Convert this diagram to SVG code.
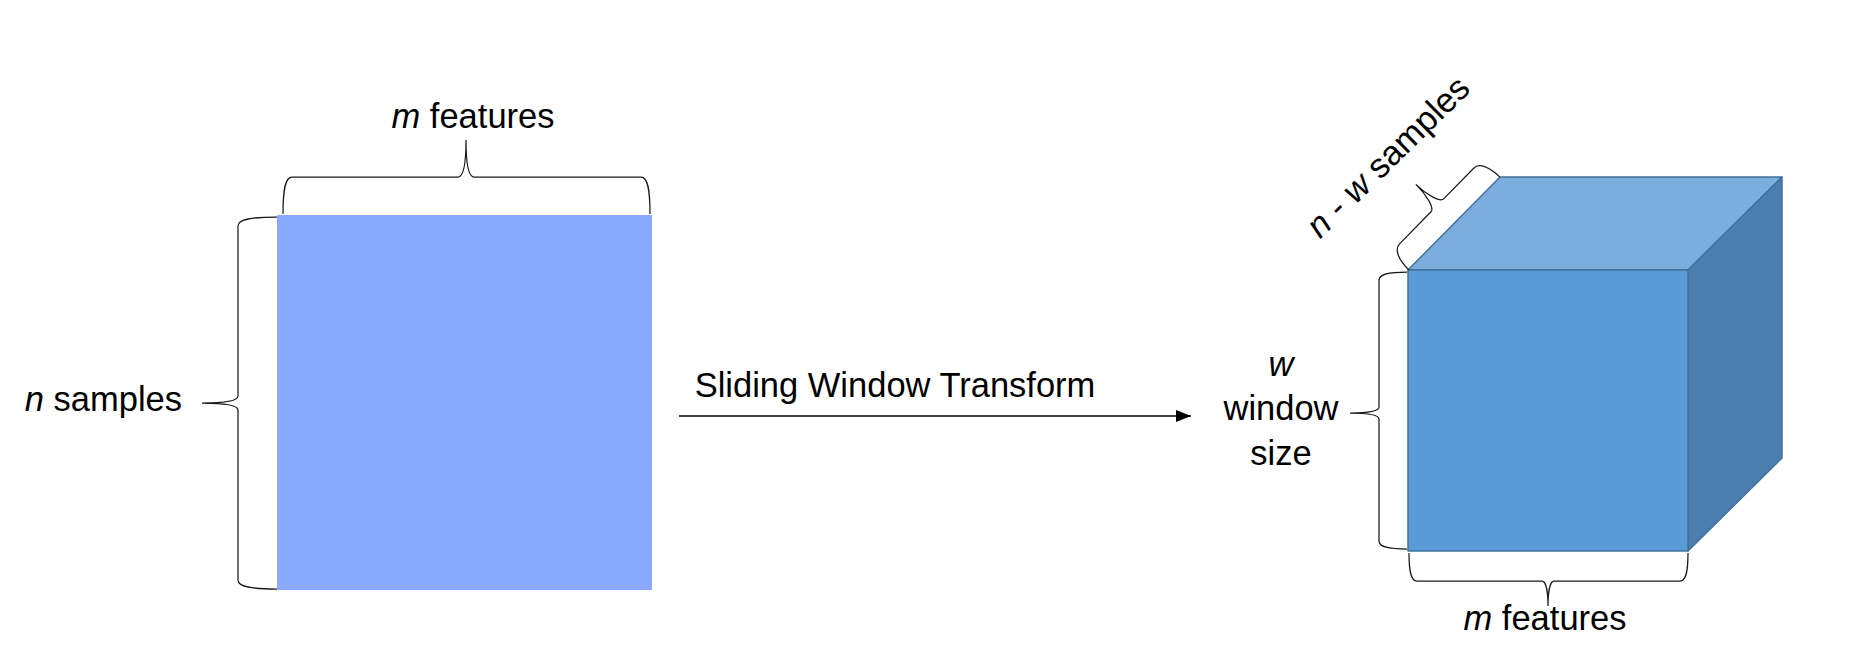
<svg xmlns="http://www.w3.org/2000/svg" width="1874" height="662" viewBox="0 0 1874 662">
<style>
.t{font-family:"Liberation Sans",Arial,sans-serif;font-size:34.5px;fill:#000}
.i{font-style:italic}
.brace{fill:none;stroke:#1a1a1a;stroke-width:1.25}
.face{stroke:#41719C;stroke-width:1.5;stroke-linejoin:round}
</style>
<defs>
<marker id="arr" markerUnits="userSpaceOnUse" markerWidth="16" markerHeight="14" refX="15" refY="6" orient="auto">
<path d="M0,0 L15,6 L0,12 Z" fill="#000"/>
</marker>
</defs>
<rect width="1874" height="662" fill="#fff"/>

<g id="matrix">
<rect x="277" y="215" width="375" height="375" fill="#8AA9FF"/>
</g>

<g id="cube">
<polygon class="face" points="1408,270 1500,177 1782,177 1688,270" fill="#7BAEDD"/>
<polygon class="face" points="1688,270 1782,177 1782,458 1688,551" fill="#4A7EAE"/>
<rect class="face" x="1408" y="270" width="280" height="281" fill="#5B9BD5"/>
</g>

<g id="braces">
<path class="brace" d="M 283 214 C 283 190 285 177 292 177 L 458 177 C 463 177 466 165 466 140 C 466 165 469 177 474 177 L 641 177 C 648 177 650 190 650 214"/>
<path class="brace" d="M 277 217 C 252 217 238 219 238 226 L 238 396 C 238 401 226 403 202 403 C 226 403 238 405 238 410 L 238 580 C 238 587 252 589 277 589"/>
<path class="brace" d="M 1407 272 C 1388 272 1379 274 1379 280 L 1379 407 C 1379 411 1370 413 1350 413 C 1370 413 1379 415 1379 419 L 1379 541 C 1379 547 1388 549 1407 549"/>
<path class="brace" d="M 1409 553 C 1409 572 1411 581 1417 581 L 1542 581 C 1546 581 1548 592 1548 606 C 1548 592 1550 581 1554 581 L 1680 581 C 1686 581 1688 572 1688 553"/>
<path class="brace" transform="translate(1409,270) rotate(-45.6)" d="M 0 0 C 0 -14 4 -25 12 -25 L 57 -25 C 62 -25 66 -40 66 -55 C 66 -40 70 -25 75 -25 L 118 -25 C 126 -25 130 -14 130 0"/>
</g>

<g id="connectors">
<line x1="679" y1="416" x2="1191" y2="416" stroke="#000" stroke-width="1.5" marker-end="url(#arr)"/>
</g>

<g id="labels">
<text class="t" x="473" y="128" text-anchor="middle"><tspan class="i">m</tspan> features</text>
<text class="t" x="182" y="411" text-anchor="end"><tspan class="i">n</tspan> samples</text>
<text class="t" x="895" y="397" text-anchor="middle">Sliding Window Transform</text>
<text class="t" x="1281" y="376" text-anchor="middle"><tspan class="i">w</tspan></text>
<text class="t" x="1281" y="420" text-anchor="middle">window</text>
<text class="t" x="1281" y="465" text-anchor="middle">size</text>
<text class="t" x="1545" y="630" text-anchor="middle"><tspan class="i">m</tspan> features</text>
<text class="t" x="1396" y="165" text-anchor="middle" transform="rotate(-44.5 1396 165)"><tspan class="i">n</tspan> - <tspan class="i">w</tspan> samples</text>
</g>
</svg>
